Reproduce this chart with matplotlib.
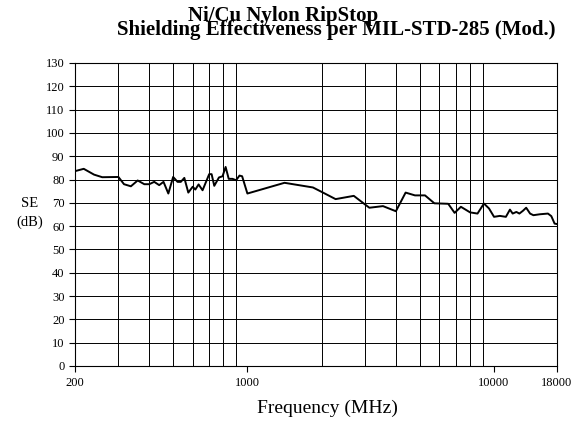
import numpy as np
import matplotlib.pyplot as plt

# frequency (MHz) and shielding effectiveness (dB)
freq = [200, 217, 239, 258, 300, 316, 337, 359, 382, 400, 419, 439, 457, 478,
        500, 521, 537, 555, 576, 600, 615, 634, 658, 700, 716, 734, 767, 793,
        816, 840, 870, 900, 929, 952, 1000, 1414, 1844, 2000, 2278, 2700,
        3122, 3546, 4000, 4380, 4780, 5250, 5730, 6520, 6920, 7340, 8000,
        8570, 9100, 9540, 10000, 10560, 11170, 11600, 11900, 12320, 12670,
        13100, 13500, 14000, 14440, 15340, 16540, 17070, 17600, 18000]
se = [83.6, 84.6, 82.1, 81.0, 81.1, 78.0, 77.1, 79.6, 78.0, 78.0, 79.0, 77.6,
      79.0, 74.0, 81.1, 79.0, 79.0, 80.7, 74.4, 76.9, 75.7, 77.9, 75.4, 82.3,
      82.3, 77.3, 80.9, 81.4, 85.4, 80.3, 80.3, 79.7, 81.7, 81.4, 74.0, 78.6,
      76.6, 74.7, 71.6, 73.0, 67.9, 68.6, 66.4, 74.4, 73.2, 73.2, 69.8, 69.6,
      65.7, 68.3, 65.9, 65.4, 69.7, 67.6, 64.0, 64.4, 64.0, 67.1, 65.4, 66.1,
      65.4, 66.6, 67.9, 65.4, 64.7, 65.1, 65.4, 64.3, 61.1, 60.9]

xgrid = [300, 400, 500, 600, 700, 800, 900, 1000, 2000, 3000, 4000, 5000,
         6000, 7000, 8000, 9000, 10000]
xticks = [200, 1000, 10000, 18000]
yticks = list(range(0, 131, 10))

plt.rcParams['font.family'] = ['Liberation Serif', 'DejaVu Serif']

fig = plt.figure(figsize=(5.81, 4.26), dpi=100)
ax = fig.add_axes([75/581, 1 - 366/426, (557 - 75)/581, (366 - 63)/426])

ax.set_xscale('log')
ax.set_xlim(200, 18000)
ax.set_ylim(0, 130)

ax.set_xticks(xticks)
ax.set_xticklabels([str(t) for t in xticks])
ax.set_xticks(xgrid, minor=True)
ax.set_yticks(yticks)
ax.tick_params(axis='both', which='major', direction='out', length=4,
               width=0.8, labelsize=9, colors='black')
ax.tick_params(axis='x', which='minor', length=0)
ax.tick_params(axis='x', which='major', pad=4)

ax.grid(True, axis='y', which='major', color='black', lw=0.7)
ax.grid(True, axis='x', which='minor', color='black', lw=0.7)

for s in ax.spines.values():
    s.set_color('black')
    s.set_linewidth(0.8)

ax.plot(freq, se, color='black', lw=1.4)

fig.text(283/581, 1 - 21/426, 'Ni/Cu Nylon RipStop', ha='center',
         va='baseline', fontsize=15, fontweight='bold')
fig.text(336/581, 1 - 35/426, 'Shielding Effectiveness per MIL-STD-285 (Mod.)',
         ha='center', va='baseline', fontsize=15, fontweight='bold')
fig.text(30/581, 1 - 213/426, 'SE\n(dB)', ha='center', va='center',
         fontsize=10.5, linespacing=1.5)
fig.text(327/581, 1 - 408/426, 'Frequency (MHz)', ha='center', va='center',
         fontsize=14)

fig.savefig('out.png', dpi=100)
